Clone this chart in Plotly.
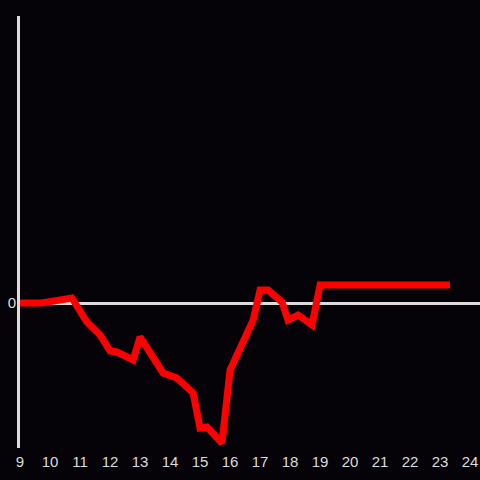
import plotly.graph_objects as go

# time of day in hours, value relative to zero
hours = [9.0, 9.73, 10.73, 11.23, 11.67, 12.0, 12.23, 12.77, 13.0, 13.77, 14.23,
         14.77, 15.0, 15.23, 15.73, 16.0, 16.77, 17.0, 17.27, 17.73, 17.93,
         18.27, 18.73, 19.0, 23.33]
values = [0, 0, 5, -19, -32, -48, -49, -57, -34, -70, -75,
          -90, -125, -124, -140, -67, -17, 13, 13, 1, -17,
          -12, -22, 18, 18]
x_ticks = list(range(9, 25))

fig = go.Figure()
fig.add_trace(go.Scatter(
    x=hours,
    y=values,
    mode='lines',
    line=dict(color='#ff0000', width=7),
    showlegend=False,
))

fig.update_layout(
    width=480,
    height=480,
    margin=dict(l=20, r=0, t=16, b=32),
    paper_bgcolor='#050307',
    plot_bgcolor='#050307',
    font=dict(family='Liberation Sans, Arial, sans-serif', size=15, color='#dcdcdc'),
    xaxis=dict(
        range=[9, 24.33],
        tickvals=x_ticks,
        ticktext=[str(t) for t in x_ticks],
        showgrid=False,
        zeroline=False,
        showline=False,
        ticks='',
        ticklabelstandoff=3,
    ),
    yaxis=dict(
        range=[-145, 287],
        tickvals=[0],
        ticktext=['0'],
        showgrid=False,
        zeroline=True,
        zerolinecolor='#dcdcdc',
        zerolinewidth=3,
        showline=True,
        linecolor='#dcdcdc',
        linewidth=3,
        ticks='',
        ticklabelstandoff=-2,
    ),
)

fig.write_html("out.html", config={'displayModeBar': False},
               post_script="document.body.style.margin='0';")
